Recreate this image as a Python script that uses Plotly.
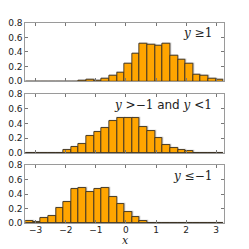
import plotly.graph_objects as go

# Bin definition
bin_start = -3.345
bin_width = 0.2535
n_bins = 26

# Normalized histogram heights per panel
top_vals = [0, 0, 0, 0, 0, 0, 0, 0.003, 0.018, 0.01, 0.036, 0.077, 0.12, 0.24, 0.38,
            0.52, 0.495, 0.48, 0.51, 0.35, 0.29, 0.24, 0.085, 0.07, 0.03, 0.015]
mid_vals = [0, 0, 0, 0.003, 0.005, 0.035, 0.08, 0.12, 0.225, 0.28, 0.34, 0.43, 0.48,
            0.475, 0.48, 0.35, 0.30, 0.20, 0.105, 0.068, 0.04, 0.022, 0.005, 0.002, 0, 0]
bot_vals = [0.027, 0.014, 0.07, 0.105, 0.205, 0.29, 0.465, 0.49, 0.425, 0.465, 0.49,
            0.36, 0.26, 0.15, 0.087, 0.032, 0.004, 0.002, 0, 0, 0, 0, 0, 0, 0, 0]

sans = "<span style='font-family:DejaVu Sans'>and</span>"
panel_labels = ["<i>y</i> ≥1", "<i>y</i> >−1 " + sans + " <i>y</i> <1", "<i>y</i> ≤−1"]
x_label = "<i>x</i>"
x_ticks = [-3, -2, -1, 0, 1, 2, 3]
y_ticks = [0.0, 0.2, 0.4, 0.6, 0.8]

centers = [bin_start + bin_width * (i + 0.5) for i in range(n_bins)]
x_lo = bin_start
x_hi = bin_start + bin_width * n_bins

fig = go.Figure()

domains = [[0.6735, 0.9088], [0.3855, 0.6225], [0.1032, 0.3373]]
series = [top_vals, mid_vals, bot_vals]
axis_color = "#9a9a9a"

for k, vals in enumerate(series):
    xa = "x" if k == 0 else f"x{k+1}"
    ya = "y" if k == 0 else f"y{k+1}"
    # faint shadow
    fig.add_trace(go.Bar(x=centers, y=vals, width=bin_width, offset=-bin_width / 2 + 0.03,
                         marker=dict(color="rgba(0,0,0,0)", line=dict(color="#c8c8c8", width=1.2)),
                         xaxis=xa, yaxis=ya, showlegend=False, hoverinfo="skip"))
    fig.add_trace(go.Bar(x=centers, y=vals, width=bin_width,
                         marker=dict(color="#FFA500", line=dict(color="#3a3020", width=0.9)),
                         xaxis=xa, yaxis=ya, showlegend=False))

axis_common = dict(showline=True, linecolor=axis_color, linewidth=1, mirror="allticks",
                   ticks="inside", ticklen=3, tickcolor="#777777", showgrid=False,
                   zeroline=False, automargin=False)

for k in range(3):
    xkey = "xaxis" if k == 0 else f"xaxis{k+1}"
    ykey = "yaxis" if k == 0 else f"yaxis{k+1}"
    ya = "y" if k == 0 else f"y{k+1}"
    xa = "x" if k == 0 else f"x{k+1}"
    fig.layout[xkey] = dict(domain=[0.1016, 0.898], range=[x_lo, x_hi], tickvals=x_ticks,
                            showticklabels=(k == 2), anchor=ya, ticklabelstandoff=-2,
                            tickfont=dict(family="DejaVu Sans", size=9, color="#222"),
                            **axis_common)
    fig.layout[ykey] = dict(domain=domains[k], range=[0, 0.8], tickvals=y_ticks,
                            tickformat=".1f", anchor=xa,
                            tickfont=dict(family="DejaVu Sans", size=9, color="#222"),
                            **axis_common)
    fig.add_annotation(text=panel_labels[k], xref=f"{xa} domain", yref=f"{ya} domain",
                       x=0.95, y=0.97, xanchor="right", yanchor="top", showarrow=False,
                       font=dict(family="DejaVu Serif", size=12, color="#222"))

fig.add_annotation(text=x_label, xref="x3", yref="paper", x=0, y=0.0,
                   xanchor="center", yanchor="bottom", showarrow=False,
                   font=dict(family="DejaVu Serif", size=11, color="#222"))

fig.update_layout(width=249, height=249, margin=dict(l=0, r=0, t=0, b=0),
                  paper_bgcolor="white", plot_bgcolor="white", bargap=0, barmode="overlay")

fig.write_html("out.html", config={"displayModeBar": False},
               post_script="document.body.style.margin='0';document.body.style.overflow='hidden';")
